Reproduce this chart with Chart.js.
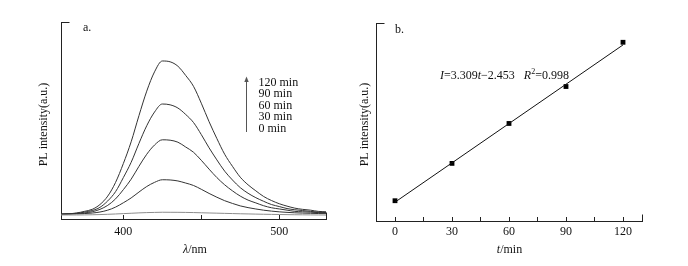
<!DOCTYPE html>
<html><head><meta charset="utf-8">
<script src="https://cdn.jsdelivr.net/npm/chart.js@4/dist/chart.umd.min.js"></script>
<style>
html,body{margin:0;padding:0;background:#fff;}
#wrap{position:relative;width:688px;height:266px;overflow:hidden;}
canvas{position:absolute;top:0;}
</style></head><body>
<div id="wrap">
<canvas id="ca" width="344" height="266" style="left:0px"></canvas>
<canvas id="cb" width="344" height="266" style="left:344px"></canvas>
</div>
<script>
// ---------- Panel a data: PL spectra ----------
const wavelengths = [360,365,370,375,380,385,390,395,400,405,410,415,420,425,430,435,440,445,450,455,460,465,470,475,480,485,490,495,500,505,510,515,520,525,530];
const pl0min   = [10,10,10,10.2,10.5,11,11.7,12.5,13.4,14.3,15.2,15.9,16.4,16.8,16.7,16.6,16.4,16,15.5,15,14.5,14,13.5,13,12.6,12.2,11.8,11.5,11.2,10.9,10.6,10.4,10.2,10,9.8];
const pl30min  = [12,12.3,12.7,13.5,14.8,17.4,22,29.6,40.4,52.4,67,80.8,91.1,97.6,97.1,94.6,89.4,83.4,73.9,63.6,54.1,45.5,38.7,32.6,28.3,24.9,21.9,19.6,17.8,16.5,15.4,14.7,14.2,13.6,13.3];
const pl60min  = [12,13,14,15,18,24,34,50,73,99,131,161,184,197,196,191,179,166,146,124,103,85,70,57,47,40,33,28,25,22,19,18,17,16,15];
const pl90min  = [12,13,14,17,21,29,45,68,103,141,188,232,266,286,284,276,260,240,210,177,147,119,97,78,64,53,44,36,31,26,23,21,19,17,16];
const pl120min = [12,13,15,19,24,36,57,91,138,192,257,318,366,393,391,380,357,330,288,242,200,161,131,104,85,70,56,46,38,32,27,24,22,19,18];
const seriesLabels = ['0 min','30 min','60 min','90 min','120 min'];
const seriesValues = [pl0min, pl30min, pl60min, pl90min, pl120min];
const xLabelsA = [400, 500];

// ---------- Panel b data: intensity vs time ----------
const times = [0, 30, 60, 90, 120];
const intensities = [1.2, 95.5, 196.3, 289.6, 401.3];
const fitTimes = [0, 120];
const fitValues = [-2.453, 394.627];
const xLabelsB = [0, 30, 60, 90, 120];

const SERIF = '"Liberation Serif","Times New Roman",serif';
const INK = '#111';
Chart.defaults.font.family = SERIF;
Chart.defaults.font.size = 12;
Chart.defaults.color = INK;

function drawRuns(ctx, runs, x, y, align) {
  let total = 0;
  const widths = runs.map(r => {
    ctx.font = (r.it ? 'italic ' : '') + (r.size || 12) + 'px ' + SERIF;
    const w = ctx.measureText(r.t).width;
    total += w;
    return w;
  });
  let cx = align === 'center' ? x - total / 2 : x;
  ctx.textAlign = 'left';
  ctx.textBaseline = 'alphabetic';
  runs.forEach((r, i) => {
    ctx.font = (r.it ? 'italic ' : '') + (r.size || 12) + 'px ' + SERIF;
    ctx.fillText(r.t, cx, y - (r.dy || 0));
    cx += widths[i];
  });
}
function rotatedText(ctx, s, x, y) {
  ctx.save();
  ctx.translate(x, y);
  ctx.rotate(-Math.PI / 2);
  ctx.font = '12px ' + SERIF;
  ctx.textAlign = 'center';
  ctx.textBaseline = 'middle';
  ctx.fillText(s, 0, 0);
  ctx.restore();
}
function frameStubs(ctx, area) {
  ctx.save();
  ctx.strokeStyle = '#222';
  ctx.lineWidth = 1;
  ctx.beginPath();
  ctx.moveTo(Math.round(area.left) + 0.5, Math.round(area.top) + 0.5);
  ctx.lineTo(Math.round(area.left) + 8.5, Math.round(area.top) + 0.5);
  ctx.moveTo(Math.round(area.right) + 0.5, Math.round(area.bottom) + 0.5);
  ctx.lineTo(Math.round(area.right) + 0.5, Math.round(area.bottom) - 6.5);
  ctx.stroke();
  ctx.restore();
}

const annoA = {
  id: 'annoA',
  afterDraw(chart) {
    const ctx = chart.ctx;
    ctx.save();
    ctx.fillStyle = INK;
    frameStubs(ctx, chart.chartArea);
    drawRuns(ctx, [{t: 'a.'}], 83, 30.5, 'left');
    const legendOrder = seriesLabels.slice().reverse();
    legendOrder.forEach((s, i) => drawRuns(ctx, [{t: s}], 258.5, 85.5 + i * 11.6, 'left'));
    ctx.strokeStyle = '#555';
    ctx.fillStyle = '#555';
    ctx.lineWidth = 1;
    ctx.beginPath();
    ctx.moveTo(246.5, 132);
    ctx.lineTo(246.5, 81);
    ctx.stroke();
    ctx.beginPath();
    ctx.moveTo(246.5, 76.5);
    ctx.lineTo(244.3, 82);
    ctx.lineTo(248.7, 82);
    ctx.closePath();
    ctx.fill();
    ctx.fillStyle = INK;
    rotatedText(ctx, 'PL intensity(a.u.)', 43.5, 124.5);
    drawRuns(ctx, [{t: 'λ', it: true}, {t: '/nm'}], 195, 252.5, 'center');
    ctx.restore();
  }
};

const annoB = {
  id: 'annoB',
  afterDraw(chart) {
    const ctx = chart.ctx;
    ctx.save();
    ctx.fillStyle = INK;
    frameStubs(ctx, chart.chartArea);
    drawRuns(ctx, [{t: 'b.'}], 395 - 344, 33, 'left');
    drawRuns(ctx, [
      {t: 'I', it: true}, {t: '=3.309'}, {t: 't', it: true}, {t: '\u22122.453   '},
      {t: 'R', it: true}, {t: '2', size: 8, dy: 5}, {t: '=0.998'}
    ], 440 - 344, 78.5, 'left');
    rotatedText(ctx, 'PL intensity(a.u.)', 364.5 - 344, 124.5);
    drawRuns(ctx, [{t: 't', it: true}, {t: '/min'}], 509.5 - 344, 252.5, 'center');
    ctx.restore();
  }
};

new Chart(document.getElementById('ca'), {
  type: 'line',
  data: {
    datasets: seriesValues.map((arr, i) => ({
      label: seriesLabels[i],
      data: wavelengths.map((w, j) => ({x: w, y: arr[j]})),
      borderColor: i === 0 ? '#8c8c8c' : '#333',
      borderWidth: 1,
      pointRadius: 0,
      cubicInterpolationMode: 'monotone',
      fill: false
    }))
  },
  options: {
    responsive: false,
    animation: false,
    events: [],
    layout: {padding: {left: 0, top: 22, right: 18, bottom: 0}},
    plugins: {legend: {display: false}, tooltip: {enabled: false}},
    scales: {
      x: {
        type: 'linear', min: 360, max: 530,
        ticks: {stepSize: 50, includeBounds: false, maxRotation: 0, padding: 10, color: INK,
          callback: v => xLabelsA.includes(v) ? String(v) : ''},
        grid: {drawOnChartArea: false, tickLength: -4, color: '#222', lineWidth: 1},
        border: {color: '#222', width: 1},
        afterFit: s => { s.height = 47; }
      },
      y: {
        min: 0, max: 490,
        ticks: {display: false},
        grid: {display: false},
        border: {color: '#222', width: 1},
        afterFit: s => { s.width = 61; }
      }
    }
  },
  plugins: [annoA]
});

new Chart(document.getElementById('cb'), {
  type: 'scatter',
  data: {
    datasets: [
      {
        type: 'line',
        label: 'fit',
        data: fitTimes.map((t, i) => ({x: t, y: fitValues[i]})),
        borderColor: '#111', borderWidth: 1, pointRadius: 0, fill: false
      },
      {
        label: 'PL intensity',
        data: times.map((t, i) => ({x: t, y: intensities[i]})),
        pointStyle: 'rect', pointRadius: 3.4, backgroundColor: '#000', borderColor: '#000', borderWidth: 0,
        showLine: false
      }
    ]
  },
  options: {
    responsive: false,
    animation: false,
    events: [],
    layout: {padding: {left: 0, top: 23, right: 46, bottom: 0}},
    plugins: {legend: {display: false}, tooltip: {enabled: false}},
    scales: {
      x: {
        type: 'linear', min: -10, max: 130,
        ticks: {stepSize: 15, includeBounds: false, maxRotation: 0, padding: 8, color: INK,
          callback: v => xLabelsB.includes(v) ? String(v) : ''},
        grid: {drawOnChartArea: false, tickLength: -4, color: '#222', lineWidth: 1},
        border: {color: '#222', width: 1},
        afterFit: s => { s.height = 45; }
      },
      y: {
        min: -50, max: 450,
        ticks: {display: false},
        grid: {display: false},
        border: {color: '#222', width: 1},
        afterFit: s => { s.width = 32; }
      }
    }
  },
  plugins: [annoB]
});
</script>
</body></html>
